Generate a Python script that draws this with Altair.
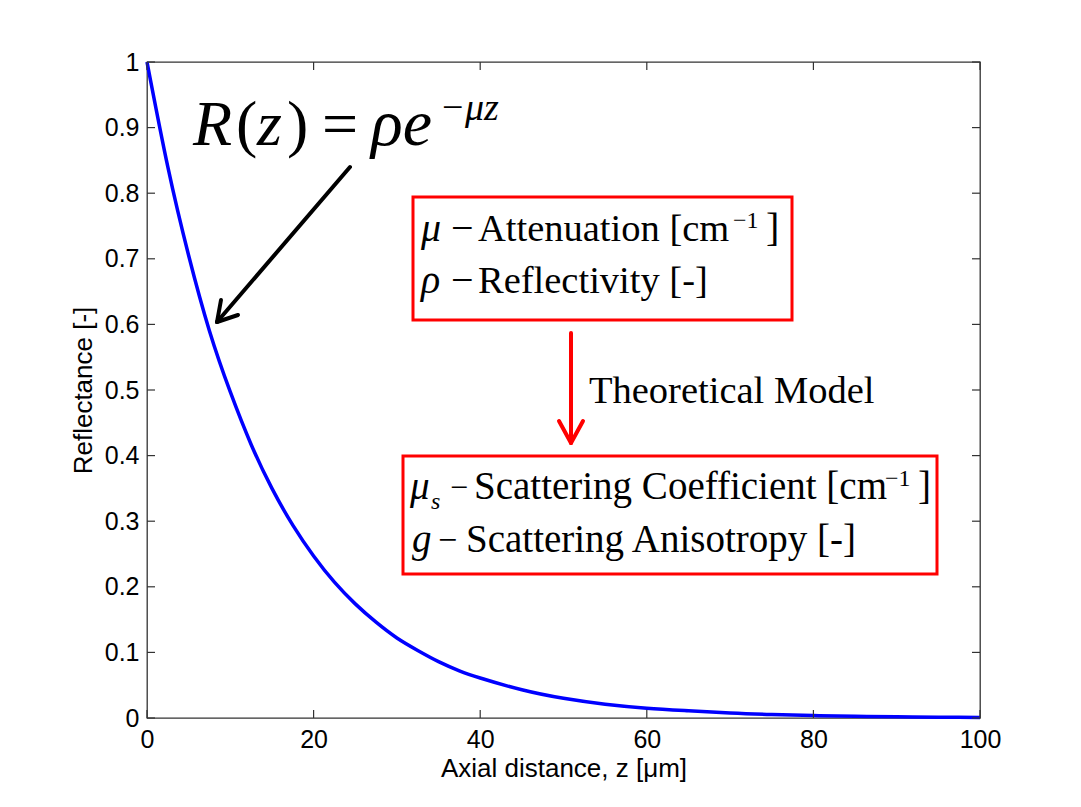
import altair as alt
import pandas as pd

# ---- data ----
z_vals = [0, 2.5, 5, 7.5, 10, 12.5, 15, 17.5, 20, 22.5, 25, 27.5, 30, 32.5, 35, 37.5, 40,
          45, 50, 55, 60, 65, 70, 75, 80, 85, 90, 95, 100]
r_vals = [1.0, 0.84, 0.705, 0.59, 0.497, 0.417, 0.35, 0.294, 0.247, 0.207, 0.174, 0.146,
          0.122, 0.103, 0.086, 0.072, 0.061, 0.043, 0.030, 0.021, 0.015, 0.011, 0.0075,
          0.0052, 0.0037, 0.0026, 0.0018, 0.0013, 0.0009]
x_ticks = [0, 20, 40, 60, 80, 100]
y_ticks = [0, 0.1, 0.2, 0.3, 0.4, 0.5, 0.6, 0.7, 0.8, 0.9, 1.0]

# ---- layout (pixels of the page) ----
L, T, W, H = 147, 62, 833, 656
PAGE_W, PAGE_H = 1081, 807


def dz(px):
    return (px - L) / W * 100.0


def dr(py):
    return (T + H - py) / H


xs = alt.Scale(domain=[0, 100], nice=False, zero=False)
ys = alt.Scale(domain=[0, 1], nice=False, zero=False)

xaxis = alt.Axis(values=x_ticks, title="Axial distance, z [μm]", ticks=False, domain=False,
                 grid=False, labelFont="Liberation Sans", labelFontSize=25, labelColor="black",
                 labelPadding=9, labelFlush=False, labelOverlap=False,
                 titleFont="Liberation Sans", titleFontSize=26,
                 titleFontWeight="normal", titleColor="black", titlePadding=3, format="d")
yaxis = alt.Axis(values=y_ticks, title="Reflectance [-]", ticks=False, domain=False,
                 grid=False, labelFont="Liberation Sans", labelFontSize=25, labelColor="black",
                 labelPadding=8, labelFlush=False, labelOverlap=False,
                 titleFont="Liberation Sans", titleFontSize=26,
                 titleFontWeight="normal", titleColor="black", titlePadding=8, format=".1~f")

X = alt.X("z:Q", scale=xs, axis=xaxis)
Y = alt.Y("r:Q", scale=ys, axis=yaxis)

curve_df = pd.DataFrame({"z": z_vals, "r": r_vals})
curve = alt.Chart(curve_df).mark_line(color="#0000ff", strokeWidth=3.5,
                                      interpolate="natural").encode(x=X, y=Y)

# inward tick marks on all four sides
tk_len_r = 8 / H
tk_len_z = 8 / W * 100
xt_rows = []
for v in x_ticks:
    xt_rows.append({"z": v, "z2": v, "r": 0, "r2": tk_len_r})
    xt_rows.append({"z": v, "z2": v, "r": 1, "r2": 1 - tk_len_r})
for v in y_ticks:
    xt_rows.append({"z": 0, "z2": tk_len_z, "r": v, "r2": v})
    xt_rows.append({"z": 100, "z2": 100 - tk_len_z, "r": v, "r2": v})
ticks = alt.Chart(pd.DataFrame(xt_rows)).mark_rule(color="#333333", strokeWidth=1.2).encode(
    x=X, x2="z2:Q", y=Y, y2="r2:Q")

# red boxes
boxes_px = [(413, 197, 792, 320), (403, 456, 937, 574)]
box_df = pd.DataFrame([{"z": dz(a), "z2": dz(c), "r": dr(b), "r2": dr(d)} for a, b, c, d in boxes_px])
boxes = alt.Chart(box_df).mark_rect(fill=None, stroke="#ff0000", strokeWidth=3).encode(
    x=X, x2="z2:Q", y=Y, y2="r2:Q")

# arrows (segments in page pixels)
black_seg = [(350, 167, 217, 322), (217, 322, 238, 315), (217, 322, 221, 300)]
red_seg = [(571, 333, 571, 443), (571, 443, 559, 421), (571, 443, 583, 421)]


def seg_df(segs):
    return pd.DataFrame([{"z": dz(a), "r": dr(b), "z2": dz(c), "r2": dr(d)} for a, b, c, d in segs])


black_arrow = alt.Chart(seg_df(black_seg)).mark_rule(color="black", strokeWidth=4,
                                                     strokeCap="round").encode(
    x=X, x2="z2:Q", y=Y, y2="r2:Q")
red_arrow = alt.Chart(seg_df(red_seg)).mark_rule(color="#ff0000", strokeWidth=4,
                                                 strokeCap="round").encode(
    x=X, x2="z2:Q", y=Y, y2="r2:Q")

# text pieces: (text, x px, baseline px, size, italic)
pieces = [
    ("R", 193, 145, 64, True),
    ("(", 236, 145, 64, False),
    ("z", 257, 145, 64, True),
    (")", 287, 145, 64, False),
    ("=", 322, 145, 64, False),
    ("ρe", 371, 145, 66, True),
    ("−", 442, 120, 38, False),
    ("μz", 465, 120, 38, True),

    ("μ", 421, 241, 40, True),
    ("−", 451, 241, 40, False),
    ("Attenuation [cm", 478, 241, 38.5, False),
    ("−1", 733, 228, 24, False),
    ("]", 766, 241, 40, False),
    ("ρ", 421, 293, 40, True),
    ("−", 451, 293, 40, False),
    ("Reflectivity [-]", 478, 293, 38.5, False),

    ("Theoretical Model", 589, 403, 38.5, False),

    ("μ", 410, 499, 39, True),
    ("s", 431, 509, 24, True),
    ("−", 450, 498, 32, False),
    ("Scattering Coefficient [cm", 474, 499, 39, False),
    ("−1", 885, 486, 24, False),
    ("]", 918, 499, 39, False),
    ("g", 412, 552, 39, True),
    ("−", 438, 551, 34, False),
    ("Scattering Anisotropy [-]", 466, 552, 39, False),
]

text_layers = []
for style in [True, False]:
    for size in sorted(set(p[3] for p in pieces)):
        rows = [{"t": p[0], "z": dz(p[1]), "r": dr(p[2])} for p in pieces
                if p[4] == style and p[3] == size]
        if not rows:
            continue
        text_layers.append(
            alt.Chart(pd.DataFrame(rows)).mark_text(
                font="Liberation Serif", fontSize=size, fontStyle="italic" if style else "normal",
                align="left", baseline="alphabetic", color="black").encode(
                x=X, y=Y, text="t:N"))

chart = alt.layer(curve, ticks, boxes, black_arrow, red_arrow, *text_layers).properties(
    width=W, height=H,
    autosize=alt.AutoSizeParams(type="none"),
    padding={"left": L, "top": T, "right": PAGE_W - L - W, "bottom": PAGE_H - T - H},
    background="white",
).configure_view(stroke="#333333", strokeWidth=1.3)

chart.save("out.html", embed_options={"renderer": "svg", "actions": False})
